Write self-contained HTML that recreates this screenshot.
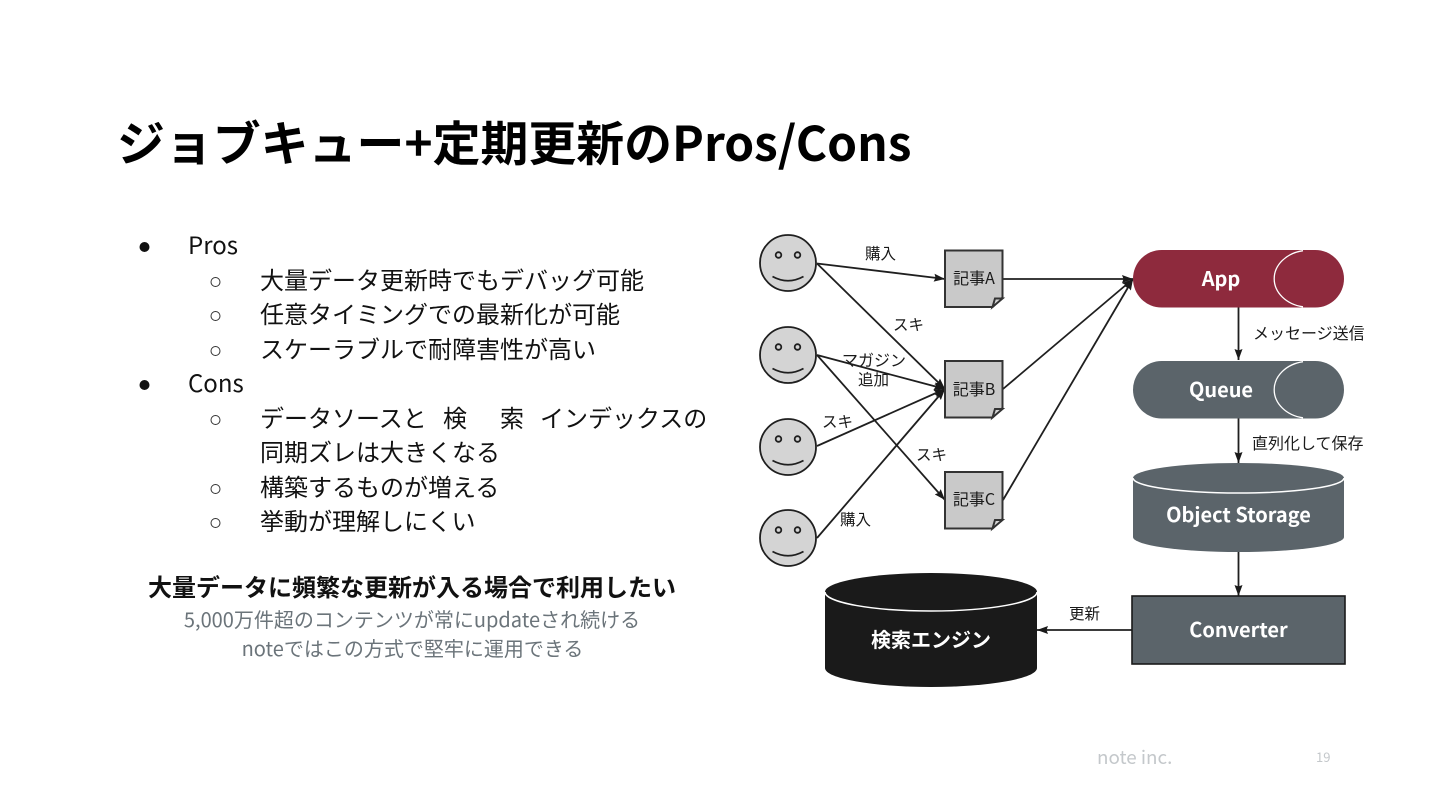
<!DOCTYPE html>
<html lang="ja"><head><meta charset="utf-8"><style>
html,body{margin:0;padding:0;background:#fff;width:1440px;height:810px;overflow:hidden}
svg{display:block}
text{font-family:"Noto Sans CJK JP","Liberation Sans",sans-serif}
.b{font-size:24px;fill:#111}
.l{font-size:15.5px;fill:#1a1a1a}
.l2{font-size:16px;fill:#1a1a1a}
.w{font-size:20px;font-weight:700;fill:#fff}
.g{font-size:20px;fill:#6b747a}
.ln{stroke:#1f1f1f;stroke-width:1.8;fill:none}
</style></head><body>
<svg width="1440" height="810" viewBox="0 0 1440 810" xmlns="http://www.w3.org/2000/svg">
<defs>
<marker id="a" markerUnits="userSpaceOnUse" markerWidth="12" markerHeight="10" refX="11" refY="5" orient="auto"><path d="M0 1 L11 5 L0 9 L1.500 5Z" fill="#1a1a1a"/></marker>
<g id="face"><circle r="28" fill="#d4d4d4" stroke="#1f1f1f" stroke-width="1.800"/><circle cx="-9.500" cy="-8" r="2.800" fill="none" stroke="#1f1f1f" stroke-width="1.800"/><circle cx="9.500" cy="-8" r="2.800" fill="none" stroke="#1f1f1f" stroke-width="1.800"/><path d="M-15.500 13.500 Q0 22 15.500 13.500" fill="none" stroke="#1f1f1f" stroke-width="1.800"/></g>
<g id="doc"><path d="M0 0H57.500V47L47.500 56.500H0Z" fill="#c9c9c9" stroke="#333" stroke-width="2"/><path d="M47.500 56.500L50 48H57.500Z" fill="#d6d6d6" stroke="#333" stroke-width="2"/></g>
</defs>

<text x="117" y="161" font-size="47.900px" font-weight="700" fill="#000">ジョブキュー+定期更新のPros/Cons</text>

<circle cx="144.500" cy="247" r="5" fill="#111"/><text x="188" y="254" class="b">Pros</text>
<g fill="none" stroke="#333" stroke-width="1">
<circle cx="215.500" cy="282" r="4.500"/><circle cx="215.500" cy="316" r="4.500"/><circle cx="215.500" cy="351" r="4.500"/>
<circle cx="215.500" cy="420" r="4.500"/><circle cx="215.500" cy="489" r="4.500"/><circle cx="215.500" cy="523" r="4.500"/>
</g>
<text x="260" y="289" class="b">大量データ更新時でもデバッグ可能</text>
<text x="260" y="323" class="b">任意タイミングでの最新化が可能</text>
<text x="260" y="358" class="b">スケーラブルで耐障害性が高い</text>
<circle cx="144.500" cy="385" r="5" fill="#111"/><text x="188" y="392" class="b">Cons</text>
<text x="260" y="427" class="b">データソースと</text><text x="443" y="427" class="b">検</text><text x="500" y="427" class="b">索</text><text x="540" y="427" class="b">インデックスの</text>
<text x="260" y="461" class="b">同期ズレは大きくなる</text>
<text x="260" y="496" class="b">構築するものが増える</text>
<text x="260" y="530" class="b">挙動が理解しにくい</text>

<text x="412" y="596" text-anchor="middle" font-size="24px" font-weight="700" fill="#111">大量データに頻繁な更新が入る場合で利用したい</text>
<text x="412" y="627" text-anchor="middle" class="g">5,000万件超のコンテンツが常にupdateされ続ける</text>
<text x="412.500" y="656" text-anchor="middle" class="g">noteではこの方式で堅牢に運用できる</text>

<g class="ln">
<line x1="817" y1="263.500" x2="945" y2="279" marker-end="url(#a)"/>
<line x1="817" y1="263.500" x2="945" y2="389" marker-end="url(#a)"/>
<line x1="817" y1="355" x2="945" y2="389" marker-end="url(#a)"/>
<line x1="817" y1="355" x2="945" y2="500" marker-end="url(#a)"/>
<line x1="817" y1="446" x2="945" y2="389" marker-end="url(#a)"/>
<line x1="817" y1="538" x2="945" y2="389" marker-end="url(#a)"/>
<line x1="1003" y1="279" x2="1133" y2="279" marker-end="url(#a)"/>
<line x1="1003" y1="389" x2="1133" y2="279" marker-end="url(#a)"/>
<line x1="1003" y1="500" x2="1133" y2="279" marker-end="url(#a)"/>
<line x1="1238.500" y1="307" x2="1238.500" y2="360" marker-end="url(#a)"/>
<line x1="1238.500" y1="418" x2="1238.500" y2="463" marker-end="url(#a)"/>
<line x1="1238.500" y1="552" x2="1238.500" y2="596" marker-end="url(#a)"/>
<line x1="1132" y1="630" x2="1037" y2="630" marker-end="url(#a)"/>
</g>

<use href="#face" x="788" y="263"/><use href="#face" x="788" y="355"/><use href="#face" x="788" y="447"/><use href="#face" x="788" y="538"/>
<use href="#doc" x="945" y="250.500"/><use href="#doc" x="945" y="361"/><use href="#doc" x="945" y="472"/>
<g font-size="16px" fill="#1a1a1a" text-anchor="middle">
<text x="974" y="284">記事A</text><text x="974" y="395">記事B</text><text x="974" y="505">記事C</text></g>

<text x="865" y="259" class="l">購入</text>
<text x="893" y="330" class="l">スキ</text>
<text x="842" y="366" class="l2">マガジン</text>
<text x="858" y="385" class="l">追加</text>
<text x="822" y="427" class="l">スキ</text>
<text x="916" y="460" class="l">スキ</text>
<text x="840" y="525" class="l">購入</text>

<rect x="1133" y="250" width="211" height="57.500" rx="28.700" fill="#8e2a3d"/>
<path d="M1303 250.700A35 28.500 0 0 0 1303 306.800" fill="none" stroke="#fff" stroke-width="1.300"/>
<text x="1221" y="286" text-anchor="middle" class="w">App</text>
<rect x="1133" y="361" width="211" height="57.500" rx="28.700" fill="#5b646a"/>
<path d="M1303 361.700A35 28.500 0 0 0 1303 417.800" fill="none" stroke="#fff" stroke-width="1.300"/>
<text x="1221" y="397" text-anchor="middle" class="w">Queue</text>
<text x="1253" y="339" class="l2">メッセージ送信</text>
<text x="1252" y="449" class="l2">直列化して保存</text>

<path d="M1133 478A105.500 15 0 0 1 1344 478V537A105.500 15 0 0 1 1133 537Z" fill="#5b646a"/>
<path d="M1133 478A105.500 15 0 0 0 1344 478" fill="none" stroke="#fff" stroke-width="1.500"/>
<text x="1238.500" y="522" text-anchor="middle" class="w">Object Storage</text>

<rect x="1132" y="596" width="213" height="68" fill="#5b646a" stroke="#1a1a1a" stroke-width="1.600"/>
<text x="1238.500" y="637" text-anchor="middle" class="w">Converter</text>
<text x="1069" y="619" class="l">更新</text>

<path d="M825 592A106 19 0 0 1 1037 592V668A106 19 0 0 1 825 668Z" fill="#1a1a1a"/>
<path d="M825 592A106 19 0 0 0 1037 592" fill="none" stroke="#fff" stroke-width="1.500"/>
<text x="931" y="647" text-anchor="middle" class="w">検索エンジン</text>

<text x="1097" y="764" font-size="18.800px" fill="#c4c8cb">note inc.</text>
<text x="1316" y="762" font-size="13px" fill="#c4c8cb">19</text>
</svg>
</body></html>
